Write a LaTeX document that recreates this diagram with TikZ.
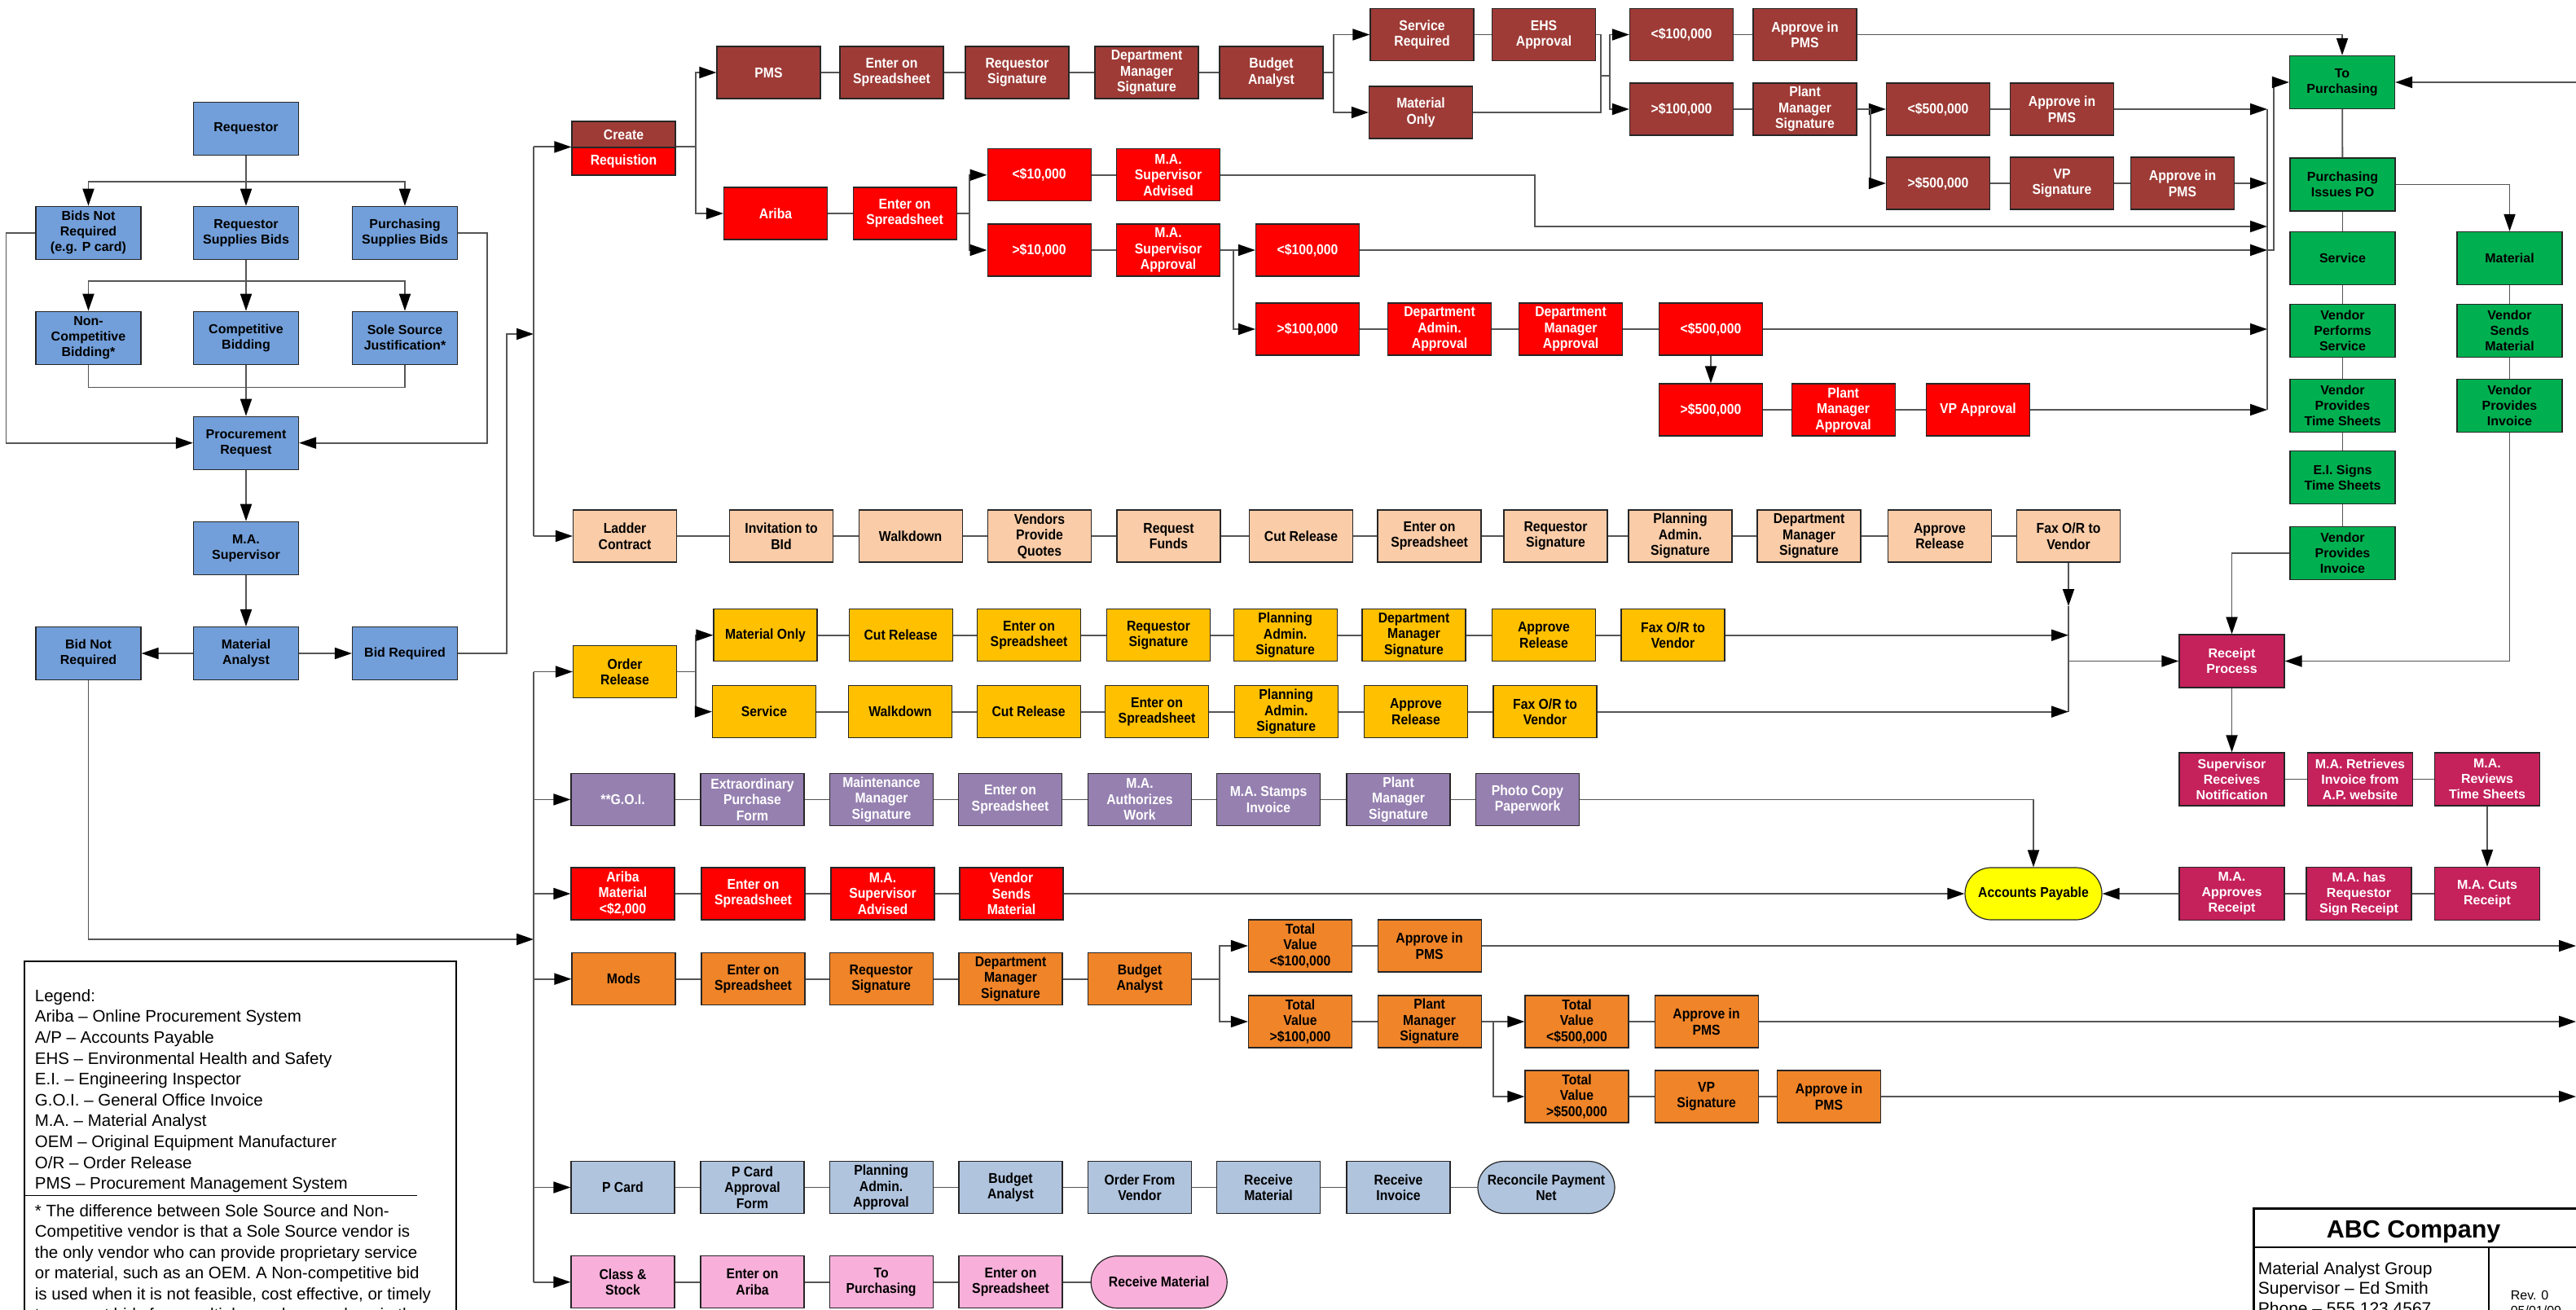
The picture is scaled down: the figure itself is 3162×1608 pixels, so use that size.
\documentclass[tikz,border=0pt]{standalone}
\usepackage{fontspec}
\setmainfont{Liberation Sans}
\newfontfamily\narrowfont[FakeStretch=0.9]{Liberation Sans}
\usetikzlibrary{arrows.meta,shapes.misc}
\definecolor{cBlue}{RGB}{114,159,218}
\definecolor{cBrown}{RGB}{158,59,54}
\definecolor{cRed}{RGB}{255,0,0}
\definecolor{cGreen}{RGB}{0,176,80}
\definecolor{cPeach}{RGB}{250,204,168}
\definecolor{cGold}{RGB}{255,192,0}
\definecolor{cPurple}{RGB}{149,128,176}
\definecolor{cOrange}{RGB}{240,132,40}
\definecolor{cSteel}{RGB}{176,196,222}
\definecolor{cPink}{RGB}{248,176,218}
\definecolor{cCrimson}{RGB}{197,33,90}
\definecolor{cYellow}{RGB}{255,255,0}
\definecolor{cLine}{RGB}{85,85,85}
\begin{document}
\begin{tikzpicture}[x=1pt,y=-1pt,
  bx/.style={draw=black!85, line width=1.2pt, minimum width=127pt, minimum height=64pt, inner sep=0pt, align=center},
  nar/.style={font=\narrowfont\bfseries\fontsize{17.5}{19.5}\selectfont},
  wid/.style={font=\bfseries\fontsize{16}{19}\selectfont, minimum width=129pt, minimum height=65pt},
  bl/.style={bx, wid, fill=cBlue},
  gr/.style={bx, wid, fill=cGreen},
  cr/.style={bx, wid, fill=cCrimson, text=white},
  brn/.style={bx, nar, fill=cBrown, text=white},
  rd/.style={bx, nar, fill=cRed, text=white},
  pch/.style={bx, nar, fill=cPeach},
  gld/.style={bx, nar, fill=cGold},
  pur/.style={bx, nar, fill=cPurple, text=white},
  org/.style={bx, nar, fill=cOrange},
  stl/.style={bx, nar, fill=cSteel},
  pnk/.style={bx, nar, fill=cPink},
  stad/.style={rounded rectangle, minimum width=168pt},
  ln/.style={draw=cLine, line width=1.8pt},
  arr/.style={ln, -{Triangle[length=21pt,width=14pt,color=black]}},
  leg/.style={anchor=base west, inner sep=0pt, font=\fontsize{20.5}{25.6}\selectfont},
  ttl/.style={anchor=base west, inner sep=0pt, font=\fontsize{21}{25}\selectfont}
]
\useasboundingbox (0,0) rectangle (3162,1608);
\fill[white] (0,0) rectangle (3162,1608);
\clip (0,0) rectangle (3162,1608);

% ---------- left blue block ----------
\node[bl] (req) at (302,157.7) {Requestor};
\node[bl] (bnr) at (108.5,285.8) {Bids Not\\Required\\(e.g. P card)};
\node[bl] (rsb) at (302,285.8) {Requestor\\Supplies Bids};
\node[bl] (psb) at (497,285.8) {Purchasing\\Supplies Bids};
\node[bl] (ncb) at (108.5,414.7) {Non-\\Competitive\\Bidding*};
\node[bl] (cb) at (302,414.7) {Competitive\\Bidding};
\node[bl] (ssj) at (497,414.7) {Sole Source\\Justification*};
\node[bl] (pr) at (302,543.7) {Procurement\\Request};
\node[bl] (mas) at (302,672.8) {M.A.\\Supervisor};
\node[bl] (ma) at (302,802) {Material\\Analyst};
\node[bl] (bnq) at (108.5,802) {Bid Not\\Required};
\node[bl] (bq) at (497,802) {Bid Required};

\draw[arr] (req) -- (rsb);
\draw[arr] (req.south) -- ++(0,32) -| (bnr.north);
\draw[arr] (req.south) -- ++(0,32) -| (psb.north);
\draw[arr] (rsb) -- (cb);
\draw[arr] (rsb.south) -- ++(0,26) -| (ncb.north);
\draw[arr] (rsb.south) -- ++(0,26) -| (ssj.north);
\coordinate (j1) at (302,475.5);
\draw[ln] (ncb.south) |- (j1) -| (ssj.south);
\draw[arr] (cb) -- (pr);
\draw[arr] (bnr.west) -- ++(-36,0) |- (pr.west);
\draw[arr] (psb.east) -- ++(36,0) |- (pr.east);
\draw[arr] (pr) -- (mas);
\draw[arr] (mas) -- (ma);
\draw[arr] (ma) -- (bnq);
\draw[arr] (ma) -- (bq);
\coordinate (ubin) at (655,410);
\draw[arr] (bq.east) -- ++(60,0) |- (ubin);
\coordinate (lbin) at (655,1153);
\draw[arr] (bnq.south) |- (lbin);

% ---------- create requisition ----------
\node[bx, nar, fill=cBrown, text=white, minimum height=32pt] (crt) at (765.5,165) {Create};
\node[bx, nar, fill=cRed, text=white, minimum height=34pt] (crb) at (765.5,198) {Requistion};

% brown PMS row
\node[brn] (pms) at (943.5,89) {PMS};
\node[brn] (ents1) at (1094.5,89) {Enter on\\Spreadsheet};
\node[brn] (rsig1) at (1248.5,89) {Requestor\\Signature};
\node[brn] (dms1) at (1407.5,89) {Department\\Manager\\Signature};
\node[brn] (ba1) at (1560.5,89) {Budget\\Analyst};
\node[brn] (sreq) at (1745.5,42.5) {Service\\Required};
\node[brn] (ehs) at (1895,42.5) {EHS\\Approval};
\node[brn] (monly) at (1744,138) {Material\\Only};
\node[brn] (lt100b) at (2064,42.5) {<\$100,000};
\node[brn] (apms1) at (2215.5,42.5) {Approve in\\PMS};
\node[brn] (gt100b) at (2064,134) {>\$100,000};
\node[brn] (pmsig) at (2215.5,134) {Plant\\Manager\\Signature};
\node[brn] (lt500b) at (2379,134) {<\$500,000};
\node[brn] (apms2) at (2531,134) {Approve in\\PMS};
\node[brn] (gt500b) at (2379,225) {>\$500,000};
\node[brn] (vpsig) at (2531,225) {VP\\Signature};
\node[brn] (apms3) at (2679,225) {Approve in\\PMS};

% red Ariba row
\node[rd] (ariba) at (952,262) {Ariba};
\node[rd] (ents9) at (1110.6,262) {Enter on\\Spreadsheet};
\node[rd] (lt10) at (1275.6,214.8) {<\$10,000};
\node[rd] (masa) at (1434,214.8) {M.A.\\Supervisor\\Advised};
\node[rd] (gt10) at (1275.6,307) {>\$10,000};
\node[rd] (masap) at (1434,307) {M.A.\\Supervisor\\Approval};
\node[rd] (lt100r) at (1605,307) {<\$100,000};
\node[rd] (gt100r) at (1605,404) {>\$100,000};
\node[rd] (daa) at (1767,404) {Department\\Admin.\\Approval};
\node[rd] (dma) at (1928,404) {Department\\Manager\\Approval};
\node[rd] (lt500r) at (2100,404) {<\$500,000};
\node[rd] (gt500r) at (2100,503) {>\$500,000};
\node[rd] (pma) at (2262.6,503) {Plant\\Manager\\Approval};
\node[rd] (vpa) at (2428,503) {VP Approval};

% green column
\node[gr] (topurch) at (2875,101) {To\\Purchasing};
\node[gr] (piss) at (2875.5,226.5) {Purchasing\\Issues PO};
\node[gr] (serv) at (2875.5,317) {Service};
\node[gr] (vps) at (2875.5,405.6) {Vendor\\Performs\\Service};
\node[gr] (vpts) at (2875.5,497.6) {Vendor\\Provides\\Time Sheets};
\node[gr] (eis) at (2875.5,586) {E.I. Signs\\Time Sheets};
\node[gr] (vpi1) at (2875.5,678.6) {Vendor\\Provides\\Invoice};
\node[gr] (mat) at (3080.5,317) {Material};
\node[gr] (vsm) at (3080.5,405.6) {Vendor\\Sends\\Material};
\node[gr] (vpi2) at (3080.5,497.6) {Vendor\\Provides\\Invoice};

% crimson receipt block
\node[cr] (rp) at (2739.5,811.5) {Receipt\\Process};
\node[cr] (srn) at (2739.5,956.5) {Supervisor\\Receives\\Notification};
\node[cr] (mri) at (2897,956.5) {M.A. Retrieves\\Invoice from\\A.P. website};
\node[cr] (mrt) at (3053,956.5) {M.A.\\Reviews\\Time Sheets};
\node[cr] (mar) at (2739.5,1097) {M.A.\\Approves\\Receipt};
\node[cr] (mhr) at (2895.5,1097) {M.A. has\\Requestor\\Sign Receipt};
\node[cr] (mcr) at (3053,1097) {M.A. Cuts\\Receipt};
\node[bx, nar, stad, fill=cYellow] (ap) at (2496,1097) {Accounts Payable};

% peach ladder row
\node[pch] (lad) at (767,658) {Ladder\\Contract};
\node[pch] (inv) at (959,658) {Invitation to\\BId};
\node[pch] (wd1) at (1117.6,658) {Walkdown};
\node[pch] (vpq) at (1276,658) {Vendors\\Provide\\Quotes};
\node[pch] (rf) at (1434.5,658) {Request\\Funds};
\node[pch] (cr1) at (1597,658) {Cut Release};
\node[pch] (ents2) at (1754.5,658) {Enter on\\Spreadsheet};
\node[pch] (rsig2) at (1909.5,658) {Requestor\\Signature};
\node[pch] (pas1) at (2062.5,658) {Planning\\Admin.\\Signature};
\node[pch] (dms2) at (2220.5,658) {Department\\Manager\\Signature};
\node[pch] (ar1) at (2381,658) {Approve\\Release};
\node[pch] (fax1) at (2539,658) {Fax O/R to\\Vendor};

% gold order release rows
\node[gld] (or) at (767,824.5) {Order\\Release};
\node[gld] (mo) at (939.5,779.7) {Material Only};
\node[gld] (cr2) at (1105.6,779.7) {Cut Release};
\node[gld] (ents3) at (1263,779.7) {Enter on\\Spreadsheet};
\node[gld] (rsig3) at (1422,779.7) {Requestor\\Signature};
\node[gld] (pas2) at (1577.6,779.7) {Planning\\Admin.\\Signature};
\node[gld] (dms3) at (1735.5,779.7) {Department\\Manager\\Signature};
\node[gld] (ar2) at (1895,779.7) {Approve\\Release};
\node[gld] (fax2) at (2053.5,779.7) {Fax O/R to\\Vendor};
\node[gld] (sv) at (938,873.6) {Service};
\node[gld] (wd2) at (1105,873.6) {Walkdown};
\node[gld] (cr3) at (1262.6,873.6) {Cut Release};
\node[gld] (ents4) at (1420,873.6) {Enter on\\Spreadsheet};
\node[gld] (pas3) at (1578.7,873.6) {Planning\\Admin.\\Signature};
\node[gld] (ar3) at (1738,873.6) {Approve\\Release};
\node[gld] (fax3) at (1896.5,873.6) {Fax O/R to\\Vendor};

% purple GOI row
\node[pur] (goi) at (764.5,981.4) {**G.O.I.};
\node[pur] (epf) at (923.5,981.4) {Extraordinary\\Purchase\\Form};
\node[pur] (mms) at (1082,981.4) {Maintenance\\Manager\\Signature};
\node[pur] (ents5) at (1240,981.4) {Enter on\\Spreadsheet};
\node[pur] (maw) at (1399,981.4) {M.A.\\Authorizes\\Work};
\node[pur] (msi) at (1557,981.4) {M.A. Stamps\\Invoice};
\node[pur] (pms2) at (1716.5,981.4) {Plant\\Manager\\Signature};
\node[pur] (pcp) at (1875,981.4) {Photo Copy\\Paperwork};

% red Ariba material row
\node[rd] (am) at (764.5,1097) {Ariba\\Material\\<\$2,000};
\node[rd] (ents6) at (924.5,1097) {Enter on\\Spreadsheet};
\node[rd] (masa2) at (1083.5,1097) {M.A.\\Supervisor\\Advised};
\node[rd] (vsm2) at (1241.5,1097) {Vendor\\Sends\\Material};

% orange mods rows
\node[org] (mods) at (765.5,1201.7) {Mods};
\node[org] (ents7) at (924.5,1201.7) {Enter on\\Spreadsheet};
\node[org] (rsig4) at (1081.6,1201.7) {Requestor\\Signature};
\node[org] (dms4) at (1240.5,1201.7) {Department\\Manager\\Signature};
\node[org] (ba2) at (1399,1201.7) {Budget\\Analyst};
\node[org] (tv1) at (1596,1161) {Total\\Value\\<\$100,000};
\node[org] (apm4) at (1754.6,1161) {Approve in\\PMS};
\node[org] (tv2) at (1596,1254) {Total\\Value\\>\$100,000};
\node[org] (pmsig2) at (1754.6,1254) {Plant\\Manager\\Signature};
\node[org] (tv3) at (1935.5,1254) {Total\\Value\\<\$500,000};
\node[org] (apm5) at (2094.6,1254) {Approve in\\PMS};
\node[org] (tv4) at (1935.5,1346) {Total\\Value\\>\$500,000};
\node[org] (vps2) at (2094.6,1346) {VP\\Signature};
\node[org] (apm6) at (2245,1346) {Approve in\\PMS};

% steel P card row
\node[stl] (pc) at (764.5,1457.5) {P Card};
\node[stl] (pcaf) at (923.5,1457.5) {P Card\\Approval\\Form};
\node[stl] (paa) at (1081.6,1457.5) {Planning\\Admin.\\Approval};
\node[stl] (ba3) at (1240.5,1457.5) {Budget\\Analyst};
\node[stl] (ofv) at (1399,1457.5) {Order From\\Vendor};
\node[stl] (rm1) at (1557,1457.5) {Receive\\Material};
\node[stl] (ri) at (1716.5,1457.5) {Receive\\Invoice};
\node[stl, stad] (rpn) at (1898,1457.5) {Reconcile Payment\\Net};

% pink class & stock row
\node[pnk] (cs) at (764.5,1573.7) {Class \&\\Stock};
\node[pnk] (ea) at (923.5,1573.7) {Enter on\\Ariba};
\node[pnk] (tp) at (1081.6,1573.7) {To\\Purchasing};
\node[pnk] (ents8) at (1240.5,1573.7) {Enter on\\Spreadsheet};
\node[pnk, stad, minimum width=167pt] (rm2) at (1422.7,1573.7) {Receive Material};

% ---------- bars ----------
\coordinate (UB) at (655,0);
\coordinate (LB) at (655,0);
\coordinate (RB) at (2783,0);
\coordinate (RE) at (3162,0);
\draw[ln] (UB |- crb.north west) -- (UB |- lad.west);
\draw[arr] (UB |- crb.north west) -- (crb.north west);
\draw[arr] (UB |- lad.west) -- (lad.west);
\draw[ln] (LB |- or.west) -- (LB |- cs.west);
\foreach \n in {or,goi,am,mods,pc,cs} \draw[arr] (LB |- \n.west) -- (\n.west);

% create requisition fork
\draw[arr] (crb.north east) -- ++(24,0) |- (pms.west);
\draw[arr] (crb.north east) -- ++(24,0) |- (ariba.west);

% brown connectors
\draw[ln] (pms) -- (ents1);
\draw[ln] (ents1) -- (rsig1);
\draw[ln] (rsig1) -- (dms1);
\draw[ln] (dms1) -- (ba1);
\draw[arr] (ba1.east) -- ++(12,0) |- (sreq.west);
\draw[arr] (ba1.east) -- ++(12,0) |- (monly.west);
\draw[ln] (sreq) -- (ehs);
\coordinate (jn) at (1965,93);
\draw[ln] (ehs.east) -| (jn);
\draw[ln] (monly.east) -| (jn);
\draw[arr] (jn) -- ++(11,0) |- (lt100b.west);
\draw[arr] (jn) -- ++(11,0) |- (gt100b.west);
\draw[ln] (lt100b) -- (apms1);
\draw[arr] (apms1.east) -| (topurch.north);
\draw[ln] (gt100b) -- (pmsig);
\draw[arr] (pmsig.east) -- ++(16,0) |- (lt500b.west);
\draw[arr] (pmsig.east) -- ++(16,0) |- (gt500b.west);
\draw[ln] (lt500b) -- (apms2);
\draw[ln] (gt500b) -- (vpsig);
\draw[ln] (vpsig) -- (apms3);

% red connectors
\draw[ln] (ariba) -- (ents9);
\draw[arr] (ents9.east) -- ++(15.5,0) |- (lt10.west);
\draw[arr] (ents9.east) -- ++(15.5,0) |- (gt10.west);
\draw[ln] (lt10) -- (masa);
\draw[ln] (gt10) -- (masap);
\draw[arr] (masap.east) -- ++(15.5,0) |- (lt100r.west);
\draw[arr] (masap.east) -- ++(15.5,0) |- (gt100r.west);
\draw[ln] (gt100r) -- (daa);
\draw[ln] (daa) -- (dma);
\draw[ln] (dma) -- (lt500r);
\draw[arr] (lt500r) -- (gt500r);
\draw[ln] (gt500r) -- (pma);
\draw[ln] (pma) -- (vpa);

% right collector bar
\draw[ln] (RB |- apms2.east) -- (RB |- vpa.east);
\draw[arr] (apms2.east) -- (RB |- apms2.east);
\draw[arr] (apms3.east) -- (RB |- apms3.east);
\coordinate (m1) at (1884,278);
\coordinate (m2) at (2783,278);
\draw[arr] (masa.east) -| (m1) -- (m2);
\draw[arr] (lt100r.east) -- (RB |- lt100r.east);
\draw[arr] (lt500r.east) -- (RB |- lt500r.east);
\draw[arr] (vpa.east) -- (RB |- vpa.east);
\draw[arr] (RB |- lt100r.east) -- ++(8,0) |- (topurch.west);
\draw[arr] (RE |- topurch.east) -- (topurch.east);

% green connectors
\draw[ln] (topurch) -- (piss);
\draw[ln] (piss) -- (serv);
\draw[ln] (serv) -- (vps);
\draw[ln] (vps) -- (vpts);
\draw[ln] (vpts) -- (eis);
\draw[ln] (eis) -- (vpi1);
\draw[arr] (piss.east) -| (mat.north);
\draw[ln] (mat) -- (vsm);
\draw[ln] (vsm) -- (vpi2);
\draw[arr] (vpi1.west) -| (rp.north);
\draw[arr] (vpi2.south) |- (rp.east);

% crimson connectors
\draw[arr] (rp) -- (srn);
\draw[ln] (srn) -- (mri);
\draw[ln] (mri) -- (mrt);
\draw[arr] (mrt) -- (mcr);
\draw[ln] (mcr) -- (mhr);
\draw[ln] (mhr) -- (mar);
\draw[arr] (mar) -- (ap);

% ladder connectors
\draw[ln] (lad) -- (inv);
\draw[ln] (inv) -- (wd1);
\draw[ln] (wd1) -- (vpq);
\draw[ln] (vpq) -- (rf);
\draw[ln] (rf) -- (cr1);
\draw[ln] (cr1) -- (ents2);
\draw[ln] (ents2) -- (rsig2);
\draw[ln] (rsig2) -- (pas1);
\draw[ln] (pas1) -- (dms2);
\draw[ln] (dms2) -- (ar1);
\draw[ln] (ar1) -- (fax1);
\coordinate (FB) at (2539,744);
\draw[arr] (fax1.south) -- (FB);
\draw[ln] (FB) -- (FB |- fax3.east);
\draw[arr] (fax2.east) -- (FB |- fax2.east);
\draw[arr] (fax3.east) -- (FB |- fax3.east);
\draw[arr] (FB |- rp.west) -- (rp.west);

% order release connectors
\draw[arr] (or.east) -- ++(23,0) |- (mo.west);
\draw[arr] (or.east) -- ++(23,0) |- (sv.west);
\draw[ln] (mo) -- (cr2);
\draw[ln] (cr2) -- (ents3);
\draw[ln] (ents3) -- (rsig3);
\draw[ln] (rsig3) -- (pas2);
\draw[ln] (pas2) -- (dms3);
\draw[ln] (dms3) -- (ar2);
\draw[ln] (ar2) -- (fax2);
\draw[ln] (sv) -- (wd2);
\draw[ln] (wd2) -- (cr3);
\draw[ln] (cr3) -- (ents4);
\draw[ln] (ents4) -- (pas3);
\draw[ln] (pas3) -- (ar3);
\draw[ln] (ar3) -- (fax3);

% GOI connectors
\draw[ln] (goi) -- (epf);
\draw[ln] (epf) -- (mms);
\draw[ln] (mms) -- (ents5);
\draw[ln] (ents5) -- (maw);
\draw[ln] (maw) -- (msi);
\draw[ln] (msi) -- (pms2);
\draw[ln] (pms2) -- (pcp);
\draw[arr] (pcp.east) -| (ap.north);

% ariba material connectors
\draw[ln] (am) -- (ents6);
\draw[ln] (ents6) -- (masa2);
\draw[ln] (masa2) -- (vsm2);
\draw[arr] (vsm2) -- (ap);

% mods connectors
\draw[ln] (mods) -- (ents7);
\draw[ln] (ents7) -- (rsig4);
\draw[ln] (rsig4) -- (dms4);
\draw[ln] (dms4) -- (ba2);
\draw[arr] (ba2.east) -- ++(33.5,0) |- (tv1.west);
\draw[arr] (ba2.east) -- ++(33.5,0) |- (tv2.west);
\draw[ln] (tv1) -- (apm4);
\draw[arr] (apm4.east) -- (RE |- apm4.east);
\draw[ln] (tv2) -- (pmsig2);
\draw[arr] (pmsig2.east) -- ++(14,0) |- (tv3.west);
\draw[arr] (pmsig2.east) -- ++(14,0) |- (tv4.west);
\draw[ln] (tv3) -- (apm5);
\draw[arr] (apm5.east) -- (RE |- apm5.east);
\draw[ln] (tv4) -- (vps2);
\draw[ln] (vps2) -- (apm6);
\draw[arr] (apm6.east) -- (RE |- apm6.east);

% P card connectors
\draw[ln] (pc) -- (pcaf);
\draw[ln] (pcaf) -- (paa);
\draw[ln] (paa) -- (ba3);
\draw[ln] (ba3) -- (ofv);
\draw[ln] (ofv) -- (rm1);
\draw[ln] (rm1) -- (ri);
\draw[ln] (ri) -- (rpn);

% class & stock connectors
\draw[ln] (cs) -- (ea);
\draw[ln] (ea) -- (tp);
\draw[ln] (tp) -- (ents8);
\draw[ln] (ents8) -- (rm2);

% ---------- legend ----------
\draw[line width=2.5pt] (30,1180) rectangle (560,1660);
\draw[line width=1.5pt] (30,1467.3) -- (512,1467.3);
\node[leg] (l1) at (42.7,1229.3) {Legend:};
\node[leg] (l2) at (42.7,1254.9) {Ariba – Online Procurement System};
\node[leg] (l3) at (42.7,1280.5) {A/P – Accounts Payable};
\node[leg] (l4) at (42.7,1306.1) {EHS – Environmental Health and Safety};
\node[leg] (l5) at (42.7,1331.7) {E.I. – Engineering Inspector};
\node[leg] (l6) at (42.7,1357.3) {G.O.I. – General Office Invoice};
\node[leg] (l7) at (42.7,1382.9) {M.A. – Material Analyst};
\node[leg] (l8) at (42.7,1408.5) {OEM – Original Equipment Manufacturer};
\node[leg] (l9) at (42.7,1434.1) {O/R – Order Release};
\node[leg] (l10) at (42.7,1459.5) {PMS – Procurement Management System};
\node[leg] (f1) at (42.7,1493.3) {* The difference between Sole Source and Non-};
\node[leg] (f2) at (42.7,1518.9) {Competitive vendor is that a Sole Source vendor is};
\node[leg] (f3) at (42.7,1544.3) {the only vendor who can provide proprietary service};
\node[leg] (f4) at (42.7,1569.6) {or material, such as an OEM. A Non-competitive bid};
\node[leg] (f5) at (42.7,1595.1) {is used when it is not feasible, cost effective, or timely};
\node[leg] (f6) at (42.7,1620.6) {to request bids from multiple vendors, such as in the};

% ---------- title block ----------
\draw[line width=2.5pt] (2766.6,1660) -- (2766.6,1483.3) -- (3175,1483.3);
\draw[line width=2pt] (2766.6,1531) -- (3175,1531);
\draw[line width=2pt] (3054.7,1531) -- (3054.7,1660);
\node[anchor=base, inner sep=0pt, font=\bfseries\fontsize{30.5}{34}\selectfont] (abc) at (2962.6,1519) {ABC Company};
\node[ttl] (t1) at (2771.7,1564) {Material Analyst Group};
\node[ttl] (t2) at (2771.7,1588.7) {Supervisor – Ed Smith};
\node[ttl] (t3) at (2771.7,1613.4) {Phone – 555.123.4567};
\node[anchor=base west, inner sep=0pt, font=\fontsize{16}{20}\selectfont] (rev) at (3081.6,1595.7) {Rev. 0};
\node[anchor=base west, inner sep=0pt, font=\fontsize{16}{20}\selectfont] (dt) at (3081.6,1614) {05/01/09};
\end{tikzpicture}
\end{document}
